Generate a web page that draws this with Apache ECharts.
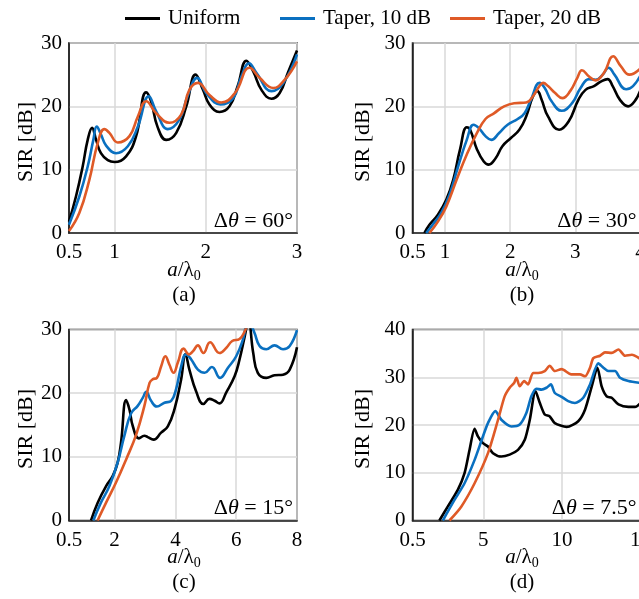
<!DOCTYPE html>
<html>
<head>
<meta charset="utf-8">
<script src="https://cdn.jsdelivr.net/npm/echarts@6/dist/echarts.min.js"></script>
<style>
html, body { margin: 0; padding: 0; background: #fff; }
#chart { width: 639px; height: 599px; }
</style>
</head>
<body>
<div id="chart"></div>
<script>
var seriesNames = ['Uniform', 'Taper, 10 dB', 'Taper, 20 dB'];
var lineColors = ['#000000', '#0A70C0', '#DF5A27'];

// (a) dtheta = 60 deg
var uniformA = [[0.5,1.8],[0.577,5.8],[0.65,10.5],[0.705,14.7],[0.753,16.6],[0.797,14.7],[0.85,12.6],[0.925,11.5],[1.0,11.2],[1.126,12.1],[1.236,15.3],[1.346,22.2],[1.40,20.8],[1.47,16.8],[1.566,14.7],[1.676,15.8],[1.786,20],[1.888,25],[1.97,22.6],[2.04,20.3],[2.15,19.1],[2.26,20],[2.35,23.2],[2.445,27.2],[2.52,25.5],[2.61,22.6],[2.72,21.2],[2.81,22.1],[2.90,25.3],[3.0,28.8]];
var taper10A = [[0.5,1.3],[0.614,5.8],[0.705,10.5],[0.767,14.7],[0.804,16.8],[0.852,15.5],[0.907,13.8],[1.016,12.6],[1.145,13.7],[1.255,16.8],[1.375,21.6],[1.456,19.2],[1.584,16.4],[1.71,17.9],[1.80,21.6],[1.906,24.5],[2.005,22.1],[2.16,20.3],[2.30,21.3],[2.39,24.7],[2.474,26.8],[2.555,25.3],[2.72,22.4],[2.85,23.7],[3.0,28.2]];
var taper20A = [[0.5,0.3],[0.614,3.2],[0.723,8.4],[0.815,14.2],[0.888,16.4],[0.943,15.8],[1.035,14.3],[1.163,15.3],[1.255,18.4],[1.346,20.8],[1.456,18.9],[1.60,17.4],[1.73,18.7],[1.82,22.6],[1.914,23.7],[2.04,21.8],[2.17,20.6],[2.32,22.1],[2.48,26.1],[2.59,24.5],[2.74,22.9],[2.866,24.2],[3.0,27.1]];

// (b) dtheta = 30 deg
var uniformB = [[0.682,0],[0.76,1.3],[0.89,2.9],[1.02,5.3],[1.125,8.4],[1.23,13.2],[1.333,16.7],[1.385,16.3],[1.49,13.2],[1.594,11.3],[1.67,10.8],[1.776,11.8],[1.88,13.7],[2.01,15],[2.14,16.3],[2.245,18.4],[2.35,21.6],[2.417,22.4],[2.48,21.1],[2.58,18.4],[2.75,16.3],[2.896,17.6],[3.05,21.1],[3.156,22.6],[3.286,23.2],[3.39,23.9],[3.495,24.3],[3.573,23.2],[3.68,21.1],[3.81,20],[3.91,20.8],[4.0,22.6]];
var taper10B = [[0.71,0],[0.81,1.3],[0.943,3.2],[1.07,6.1],[1.2,10.5],[1.333,14.7],[1.4375,17.1],[1.516,16.6],[1.62,15.3],[1.71,14.7],[1.83,15.8],[1.96,17.1],[2.115,18],[2.22,18.9],[2.32,21.1],[2.45,23.7],[2.53,22.9],[2.635,20.8],[2.79,19.3],[2.95,20.5],[3.08,22.9],[3.21,24.3],[3.31,24.2],[3.42,25],[3.51,26.1],[3.6,25],[3.78,22.7],[3.885,23.2],[4.0,24.9]];
var taper20B = [[0.76,0],[0.89,1.8],[1.02,4.2],[1.177,8.4],[1.333,12.4],[1.49,15.8],[1.62,18],[1.75,18.9],[1.906,20],[2.06,20.5],[2.245,20.6],[2.35,21.6],[2.45,23.2],[2.505,23.7],[2.58,23.2],[2.69,22.1],[2.8,21.3],[2.92,22.4],[3.03,24.5],[3.1,25.7],[3.21,24.7],[3.31,24.1],[3.44,25.3],[3.58,27.9],[3.70,26.3],[3.83,25],[4.0,26]];

// (c) dtheta = 15 deg
var uniformC = [[1.225,0],[1.444,2.8],[1.72,5.4],[1.94,7],[2.1,9.1],[2.21,12.2],[2.38,18.9],[2.49,17.4],[2.6,14.8],[2.8,12.9],[2.98,13.3],[3.09,13.1],[3.28,12.7],[3.53,13.8],[3.75,14.8],[3.97,17.5],[4.19,22.2],[4.33,26.1],[4.46,23.7],[4.68,20.3],[4.92,18.3],[5.12,19.1],[5.29,18.8],[5.45,18.4],[5.67,20.1],[5.95,22.7],[6.11,25.3],[6.28,28.9],[6.4,31.5],[6.56,26.3],[6.71,23.2],[6.99,22.4],[7.26,22.8],[7.54,22.9],[7.76,23.7],[8.0,27.2]];
var taper10C = [[1.3,0],[1.55,2.8],[1.83,5.4],[2.1,9.1],[2.32,13.3],[2.54,16.8],[2.76,18],[2.93,19.3],[3.04,20.2],[3.2,18.8],[3.39,17.9],[3.64,18.5],[3.86,18.8],[4.02,20.6],[4.19,24.2],[4.35,26.1],[4.52,25.3],[4.74,23.7],[4.96,23.2],[5.2,24.1],[5.47,22.4],[5.73,24],[6.0,25.8],[6.22,28.4],[6.4,31.5],[6.6,29.5],[6.77,27.4],[6.99,26.9],[7.26,27.5],[7.54,26.9],[7.76,27.4],[8.0,29.9]];
var taper20C = [[1.44,0],[1.72,2.8],[2.05,6],[2.38,9.6],[2.71,13.5],[2.98,18],[3.15,21.6],[3.26,22.2],[3.39,22.4],[3.53,24.2],[3.67,25.8],[3.8,24.5],[3.94,23.2],[4.08,24.8],[4.27,27],[4.45,26.1],[4.58,26.6],[4.74,27.5],[4.92,26.3],[5.14,28],[5.45,26.3],[5.67,27.1],[5.87,28.2],[6.11,28.5],[6.28,29.7],[6.4,31],[6.7,31.5],[7.3,32],[8.0,33]];

// (d) dtheta = 7.5 deg
var uniformD = [[2.21,0],[2.74,2.9],[3.38,6.4],[3.81,9.9],[4.13,14.8],[4.45,19.2],[4.66,17.6],[4.98,16.2],[5.3,15.5],[5.62,14.1],[6.15,13.4],[6.68,13.8],[7.21,14.8],[7.64,16.9],[7.96,21.1],[8.32,27.1],[8.6,24.6],[8.91,22.2],[9.23,21.8],[9.55,20.4],[10.3,19.6],[11.04,20.8],[11.47,23.2],[11.9,28.1],[12.26,32],[12.53,28.1],[12.85,26],[13.17,25.7],[13.6,24.3],[14.23,23.8],[14.66,23.8],[15,24.6]];
var taper10D = [[2.43,0],[3.17,4.3],[3.81,7.8],[4.45,12.7],[4.98,17.6],[5.3,20.4],[5.77,22.9],[6.15,21.1],[6.79,19.7],[7.32,20.1],[7.74,22.5],[8.06,26],[8.38,27.6],[8.7,27.4],[9.02,27.8],[9.3,28.5],[9.55,26.7],[9.98,25.9],[10.4,25],[10.83,24.6],[11.36,25.7],[11.79,28.5],[12.32,32.9],[12.64,32],[12.96,31.3],[13.38,31.3],[13.7,29.9],[14.23,29.2],[15,28.8]];
var taper20D = [[2.85,0],[3.6,2.9],[4.45,7.8],[5.3,14.1],[5.94,21.1],[6.36,26],[6.68,27.8],[6.96,28.8],[7.11,29.9],[7.32,28.1],[7.6,29.2],[7.85,28.5],[8.17,30.9],[8.49,30.9],[8.91,31.3],[9.23,32.4],[9.55,31.3],[9.98,31.7],[10.6,30.6],[11.15,30.6],[11.47,30.2],[11.79,32],[12,34],[12.43,34.5],[12.74,35.2],[13.17,35.1],[13.6,35.8],[14.02,34.5],[14.45,34.7],[15,33.8]];

// axes
var xMax = [3, 4, 8, 15];
var yMax = [30, 30, 30, 40];
var xLabelValues = [[0.5, 1, 2, 3], [0.5, 1, 2, 3, 4], [0.5, 2, 4, 6, 8], [0.5, 5, 10, 15]];
var xGridValues = [[1, 2, 3], [1, 2, 3, 4], [2, 4, 6, 8], [5, 10, 15]];
var panelAngles = ['60°', '30°', '15°', '7.5°'];
var panelLetters = ['(a)', '(b)', '(c)', '(d)'];

var panelData = [
    [uniformA, taper10A, taper20A],
    [uniformB, taper10B, taper20B],
    [uniformC, taper10C, taper20C],
    [uniformD, taper10D, taper20D]
];

var FONT = '"Liberation Serif", "Times New Roman", serif';
var grids = [
    { left: 69, top: 43, width: 228, height: 190 },
    { left: 412.5, top: 43, width: 228, height: 190 },
    { left: 69, top: 329.5, width: 228, height: 191 },
    { left: 412.5, top: 329.5, width: 228, height: 191 }
];

var xAxes = [], yAxes = [], series = [], graphics = [];
for (var p = 0; p < 4; p++) {
    var g = grids[p];
    g.show = true;
    g.borderColor = '#222';
    g.borderWidth = 1.5;
    g.outerBoundsMode = 'none';
    g.containLabel = false;

    xAxes.push({
        type: 'value', gridIndex: p, min: 0.5, max: xMax[p],
        axisLine: { show: true, onZero: false, lineStyle: { color: '#222', width: 1.5 } },
        axisTick: { show: false, customValues: xGridValues[p] },
        axisLabel: {
            customValues: xLabelValues[p], margin: 9,
            fontFamily: FONT, fontSize: 21, color: '#000'
        },
        splitLine: { show: true, lineStyle: { color: '#d9d9d9', width: 1.5 } }
    });
    yAxes.push({
        type: 'value', gridIndex: p, min: 0, max: yMax[p], interval: 10,
        axisLine: { show: true, lineStyle: { color: '#222', width: 1.5 } },
        axisTick: { show: false },
        axisLabel: { margin: 7, fontFamily: FONT, fontSize: 21, color: '#000' },
        splitLine: { show: true, lineStyle: { color: '#d9d9d9', width: 1.5 } }
    });
    for (var s = 0; s < 3; s++) {
        series.push({
            name: seriesNames[s], type: 'line', xAxisIndex: p, yAxisIndex: p,
            data: panelData[p][s], showSymbol: false, symbol: 'none',
            smooth: p === 3 ? 0.25 : 0.45, clip: true,
            lineStyle: { color: lineColors[s], width: 2.6 },
            itemStyle: { color: lineColors[s] }
        });
    }

    var right = g.left + g.width;
    var bottom = g.top + g.height;
    var cx = p % 2 === 0 ? 184 : 522;
    // Δθ annotation
    graphics.push({
        type: 'text', x: right - 4, y: bottom - 12, z: 10,
        style: {
            text: '{n|Δ}{i|θ}{n| = ' + panelAngles[p] + '}',
            align: 'right', verticalAlign: 'middle',
            rich: {
                n: { fontFamily: FONT, fontSize: 22, fill: '#000' },
                i: { fontFamily: FONT, fontSize: 22, fontStyle: 'italic', fill: '#000' }
            }
        }
    });
    // y axis name
    graphics.push({
        type: 'text', x: p % 2 === 0 ? 26 : 363, y: g.top + g.height / 2 + 4, rotation: Math.PI / 2,
        style: {
            text: 'SIR [dB]', align: 'center', verticalAlign: 'middle',
            font: '22px ' + FONT, fill: '#000'
        }
    });
    // x axis name
    graphics.push({
        type: 'text', x: cx, y: bottom + 37,
        style: {
            text: '{i|a}{n|/λ}{s|0}', align: 'center', verticalAlign: 'middle',
            rich: {
                n: { fontFamily: FONT, fontSize: 21, fill: '#000' },
                i: { fontFamily: FONT, fontSize: 21, fontStyle: 'italic', fill: '#000' },
                s: { fontFamily: FONT, fontSize: 14, fill: '#000', padding: [12, 0, 0, 0] }
            }
        }
    });
    // panel letter
    graphics.push({
        type: 'text', x: cx, y: bottom + 62,
        style: {
            text: panelLetters[p], align: 'center', verticalAlign: 'middle',
            font: '21px ' + FONT, fill: '#000'
        }
    });
}

// one legend block per entry, placed as in the figure
var legendLeft = [120, 275, 445];
var legends = seriesNames.map(function (name, i) {
    return {
        data: [name], top: 3, left: legendLeft[i],
        icon: 'rect', itemWidth: 35, itemHeight: 3,
        textStyle: { fontFamily: FONT, fontSize: 21, color: '#000', padding: [0, 0, 0, 3] }
    };
});

var chart = echarts.init(document.getElementById('chart'));
chart.setOption({
    animation: false,
    backgroundColor: '#fff',
    legend: legends,
    grid: grids,
    xAxis: xAxes,
    yAxis: yAxes,
    series: series,
    graphic: graphics
});
</script>
</body>
</html>
